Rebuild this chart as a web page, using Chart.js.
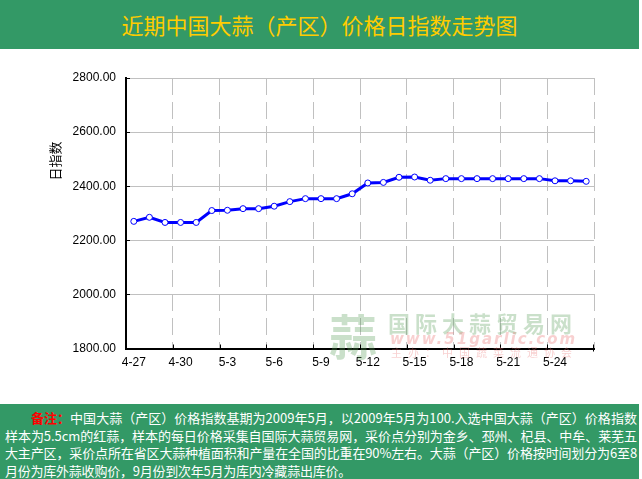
<!DOCTYPE html>
<html>
<head>
<meta charset="utf-8">
<script src="https://cdn.jsdelivr.net/npm/chart.js@4.4.0/dist/chart.umd.min.js"></script>
<style>
  html, body { margin: 0; padding: 0; background: #fff; }
  #wrap { position: relative; width: 642px; height: 479px; overflow: hidden; }
  #chart { position: absolute; left: 0; top: 0; }
  .bar { position: absolute; left: 0; width: 639px; background: #339966; }
  #title { top: 0; height: 49px; line-height: 49px; text-align: center; color: #ffcc00;
           font-family: "Noto Sans CJK SC"; font-size: 22px; }
  #note { top: 404px; height: 75px; padding-top: 5px; box-sizing: border-box; color: #fff;
          font-family: "Noto Sans CJK SC"; font-size: 13px; }
  #note div { white-space: nowrap; line-height: 17.5px; padding-left: 5px; }
  #note div.first { padding-left: 31px; }
  #note span { display: inline-block; }
  #note b { color: #ff0000; }
</style>
</head>
<body>
<div id="wrap">
  <canvas id="chart" width="642" height="479"></canvas>
  <div class="bar" id="title">近期中国大蒜（产区）价格日指数走势图</div>
  <div class="bar" id="note">
    <div class="first"><span data-w="606"><b>备注：</b>中国大蒜（产区）价格指数基期为2009年5月，以2009年5月为100.入选中国大蒜（产区）价格指数</span></div>
    <div><span data-w="632">样本为5.5cm的红蒜，样本的每日价格采集自国际大蒜贸易网，采价点分别为金乡、邳州、杞县、中牟、莱芜五</span></div>
    <div><span data-w="632">大主产区，采价点所在省区大蒜种植面积和产量在全国的比重在90%左右。大蒜（产区）价格按时间划分为6至8</span></div>
    <div><span data-w="346">月份为库外蒜收购价，9月份到次年5月为库内冷藏蒜出库价。</span></div>
  </div>
</div>
<script>
// daily garlic price index, 4-27 .. 5-26
const dates = ['4-27','4-28','4-29','4-30','5-1','5-2','5-3','5-4','5-5','5-6',
               '5-7','5-8','5-9','5-10','5-11','5-12','5-13','5-14','5-15','5-16',
               '5-17','5-18','5-19','5-20','5-21','5-22','5-23','5-24','5-25','5-26'];
const priceIndex = [2270, 2285, 2266, 2266, 2266, 2310, 2311, 2317, 2317, 2326,
                    2343, 2354, 2354, 2354, 2372, 2412, 2414, 2433, 2434, 2422,
                    2428, 2428, 2428, 2428, 2428, 2428, 2428, 2420, 2420, 2418];
const shownDates = ['4-27','4-30','5-3','5-6','5-9','5-12','5-15','5-18','5-21','5-24'];
const yMin = 1800, yMax = 2800, yStep = 200;
const yTitle = '日指数';

const gridGray = '#c0c0c0';

// stretch the note lines to the width they take in the original
document.querySelectorAll('#note span').forEach(sp => {
    const target = +sp.dataset.w;
    const n = sp.textContent.length;
    const w = sp.getBoundingClientRect().width;
    sp.style.letterSpacing = ((target - w) / n).toFixed(3) + 'px';
});

function isShown(i) {
    return shownDates.includes(dates[i]);
}

// y title, small inward ticks and the site watermark
const extras = {
    id: 'extras',
    afterDraw(chart) {
        const ctx = chart.ctx;
        const area = chart.chartArea;
        const x = chart.scales.x, y = chart.scales.y;
        ctx.save();

        // inward tick marks
        ctx.strokeStyle = '#000';
        ctx.lineWidth = 1;
        ctx.beginPath();
        for (let v = yMin + yStep; v <= yMax; v += yStep) {
            const py = Math.round(y.getPixelForValue(v)) + 0.5;
            ctx.moveTo(area.left, py);
            ctx.lineTo(area.left + 4, py);
        }
        const half = (x.getPixelForValue(1) - x.getPixelForValue(0)) / 2;
        dates.forEach((d, i) => {
            if (i > 0 && isShown(i)) {
                const px = Math.round(x.getPixelForValue(i) - half) + 0.5;
                ctx.moveTo(px, area.bottom);
                ctx.lineTo(px, area.bottom - 4);
            }
        });
        ctx.moveTo(area.right - 0.5, area.bottom + 3);
        ctx.lineTo(area.right - 0.5, area.bottom - 4);
        ctx.stroke();

        // y axis title
        ctx.fillStyle = '#000';
        ctx.font = '13px "Noto Sans CJK SC"';
        ctx.textAlign = 'center';
        ctx.textBaseline = 'middle';
        ctx.translate(55, 161);
        ctx.rotate(-Math.PI / 2);
        ctx.fillText(yTitle, 0, 0);
        ctx.setTransform(1, 0, 0, 1, 0, 0);

        // watermark
        ctx.textAlign = 'left';
        ctx.fillStyle = 'rgba(90,160,90,0.32)';
        ctx.font = 'bold 48px "Noto Sans CJK SC"';
        ctx.fillText('蒜', 329, 337);
        ctx.font = 'bold 22px "Noto Sans CJK SC"';
        ctx.letterSpacing = '5px';
        ctx.fillText('国际大蒜贸易网', 388, 324);
        ctx.fillStyle = 'rgba(235,120,120,0.35)';
        ctx.font = 'italic bold 15px "DejaVu Sans"';
        ctx.letterSpacing = '2px';
        ctx.fillText('www.51garlic.com', 390, 340);
        ctx.font = '11px "Noto Sans CJK SC"';
        ctx.letterSpacing = '6px';
        ctx.fillText('主办：中国蔬菜流通协会', 391, 353);
        ctx.restore();
    }
};

new Chart(document.getElementById('chart'), {
    type: 'line',
    data: {
        labels: dates,
        datasets: [{
            data: priceIndex,
            borderColor: '#0000ff',
            borderWidth: 3,
            pointRadius: 3,
            pointBorderWidth: 1,
            pointBackgroundColor: '#fff',
            pointBorderColor: '#0000ff',
            tension: 0
        }]
    },
    options: {
        responsive: false,
        animation: false,
        layout: { padding: { top: 78, right: 48, left: 0, bottom: 75 } },
        plugins: { legend: { display: false }, tooltip: { enabled: false } },
        scales: {
            x: {
                offset: true,
                afterFit: s => { s.height = 55.5; },
                grid: {
                    offset: true,
                    drawTicks: false,
                    color: c => (c.type === 'scale' || (c.index > 0 && isShown(c.index))) ? gridGray : 'rgba(0,0,0,0)',
                    lineWidth: 1
                },
                border: { color: '#000', width: 2, dash: [17, 7] },
                ticks: {
                    autoSkip: false,
                    maxRotation: 0,
                    padding: 7,
                    color: '#000',
                    font: { family: 'Liberation Sans', size: 12 },
                    callback: (v, i) => isShown(i) ? dates[i] : ''
                }
            },
            y: {
                min: yMin,
                max: yMax,
                afterFit: s => { s.width = 126; },
                grid: { drawTicks: false, color: gridGray, lineWidth: 1 },
                border: { color: '#000', width: 2 },
                ticks: {
                    stepSize: yStep,
                    padding: 10,
                    color: '#000',
                    font: { family: 'Liberation Sans', size: 12 },
                    callback: v => v.toFixed(2)
                }
            }
        }
    },
    plugins: [extras]
});
</script>
</body>
</html>
